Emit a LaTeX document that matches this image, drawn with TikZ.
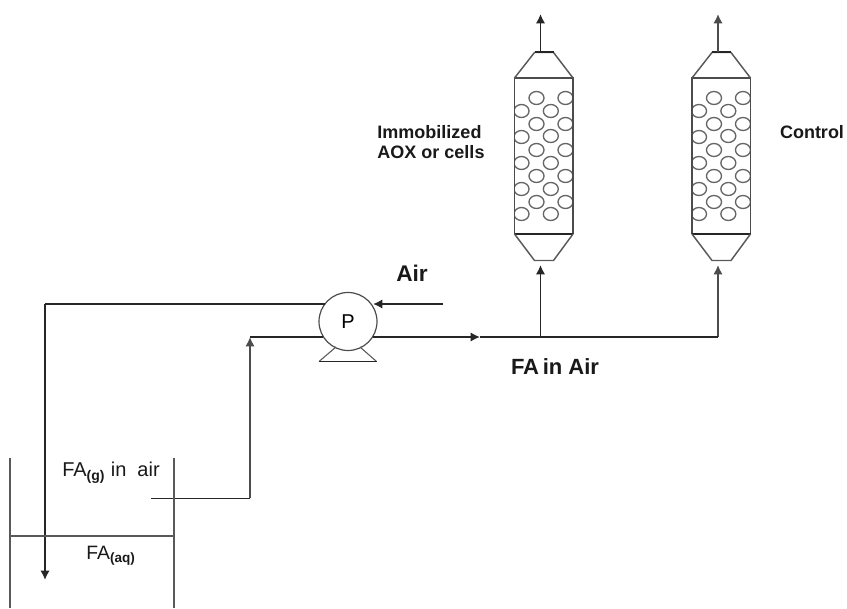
\documentclass[tikz,border=0pt]{standalone}
\usepackage{fontspec}
\setmainfont{Liberation Sans}
\usetikzlibrary{arrows.meta}
\begin{document}
\begin{tikzpicture}[x=0.75pt,y=-0.75pt,
  pipe/.style={draw=black!85,line width=1.3pt},
  flow/.style={pipe,-{Latex[length=7pt,width=7pt]}},
  thin line/.style={draw=black!65,line width=0.8pt},
  bead/.style={draw=black!60,line width=1pt,fill=white},
  lab/.style={inner sep=0pt,align=left,text=black!90},
  pump/.style={circle,draw=black!70,line width=0.9pt,minimum size=58*0.75pt,inner sep=0pt,font=\fontsize{15}{15}\selectfont}]
\useasboundingbox (0,0) rectangle (847,609);
\newcommand{\column}[2]{%
  \begin{scope}[shift={(#1,0)}]
    \foreach \dx/\yy in {66/98,153/98,21/111,109/111,66/124,153/124,21/137,109/136,66/150,153/150,21/163,109/163,66/176,153/176,21/189,109/189,66/202,153/202,21/214,109/214}{
      \begin{scope}
        \clip (0,78) rectangle (58.5,234);
        \draw[bead] (\dx/3,\yy) ellipse (7.5 and 6.5);
      \end{scope}}
    \draw[thin line,draw=black!70,line width=1pt] (0,234) -- (0,78) -- (58.5,78) -- (58.5,234);
    \draw[pipe] (0,234) -- (58.5,234);
    \draw[thin line,line width=1.1pt] (0,78) -- (20,52.5) -- (39,52.5) -- (58.5,78);
    \draw[thin line,line width=1.1pt] (0,234) -- (20,260.5) -- (39,260.5) -- (58.5,234);
    \draw[pipe,line width=1.8pt] (20,52) -- (39,52);
    \coordinate (#2top) at (26,52);
    \coordinate (#2out) at (26,14);
    \coordinate (#2bot) at (26,265);
  \end{scope}}
\column{514.5}{a}
\column{692}{b}
% arrows of the columns
\coordinate (teeA) at (540.5,337);
\coordinate (teeB) at (718,337);
\draw[flow] (atop) -- (aout);
\draw[flow,draw=black!70] (btop) -- (bout);
\draw[flow] (teeA) -- (abot);
\draw[flow,draw=black!70] (teeB) -- (bbot);
% pump
\node[pump] (P) at (348,321.5) {P};
\coordinate (baseL) at (319,361.5);
\coordinate (baseR) at (376.5,361.5);
\coordinate (legL) at (336,347);
\coordinate (legR) at (360,347);
\draw[thin line] (legL) -- (baseL);
\draw[thin line] (legR) -- (baseR);
\draw[pipe] (baseL) -- (baseR);
% piping
\coordinate (airIn) at (443,304);
\coordinate (pumpAir) at (373,304);
\coordinate (pumpOutA) at (325,304);
\coordinate (corner) at (45,304);
\coordinate (bub) at (45,580);
\draw[pipe] (pumpOutA) -- (corner);
\draw[flow] (corner) -- (bub);
\draw[flow] (airIn) -- (pumpAir);
\coordinate (inlet) at (151,498.5);
\coordinate (riser) at (250,498.5);
\coordinate (riserTop) at (250,337);
\coordinate (pumpIn) at (323,337);
\coordinate (pumpOut) at (372.5,337);
\coordinate (mid) at (480,337);
\draw[pipe] (inlet) -- (riser);
\draw[flow,draw=black!70] (riser) -- (riserTop);
\draw[pipe] (riserTop) -- (pumpIn);
\draw[flow] (pumpOut) -- (mid);
\draw[pipe] (mid) -- (teeB);
% tank
\draw[thin line] (10,458) -- (10,608);
\draw[thin line] (174,458) -- (174,608);
\draw[thin line] (10,536) -- (174,536);
% labels
\node[lab,font=\bfseries\fontsize{17}{17}\selectfont] (lair) at (412,273) {Air};
\node[lab,font=\bfseries\fontsize{16.5}{17}\selectfont] (lfa) at (555,367) {FA\,in Air};
\node[lab,font=\bfseries\fontsize{13.5}{15}\selectfont] (limm) at (431,142) {Immobilized\\AOX or cells};
\node[lab,font=\bfseries\fontsize{13.5}{14}\selectfont] (lctl) at (812,132) {Control};
\node[lab,font=\fontsize{15}{15}\selectfont] (lg) at (111,473) {FA\textsubscript{\bfseries(g)} in\ \ air};
\node[lab,font=\fontsize{14.5}{15}\selectfont] (laq) at (111,556) {FA\textsubscript{\bfseries(aq)}};
\end{tikzpicture}
\end{document}
